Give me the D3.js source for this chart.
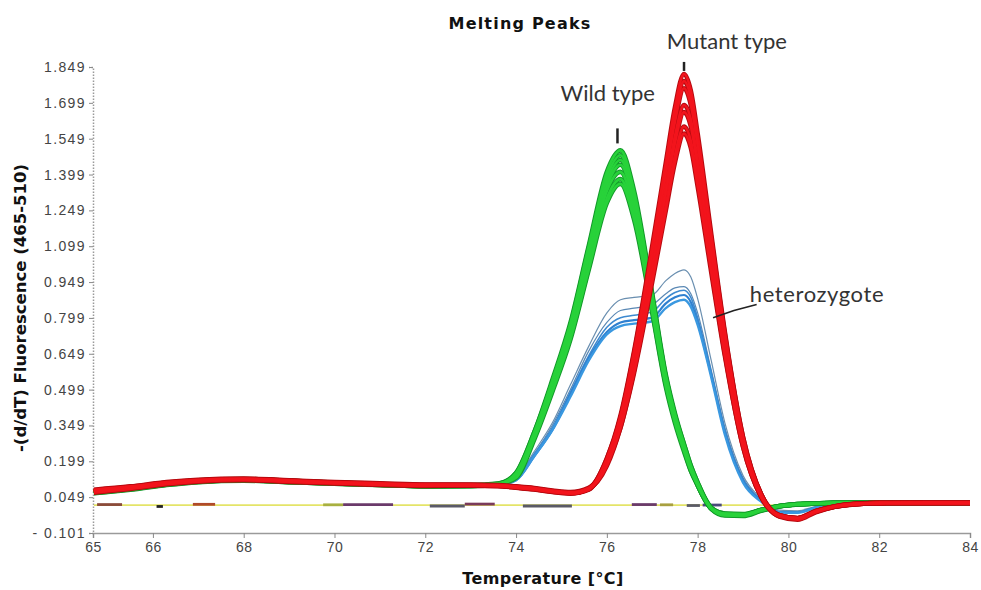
<!DOCTYPE html>
<html>
<head>
<meta charset="utf-8">
<script src="https://cdn.jsdelivr.net/npm/d3@7"></script>
<style>
  body { margin: 0; background: #fff; }
  svg { display: block; }
</style>
</head>
<body>
<div id="chart"></div>
<script>
'use strict';

// temperature grid (°C) shared by every trace
var temps = [64.7, 65.5, 66.3, 67, 68, 69, 70, 71, 72, 73, 73.6, 74, 74.4, 74.8, 75.2, 75.6,
  76, 76.3, 76.6, 77, 77.3, 77.5, 77.7, 77.85, 78, 78.3, 78.6, 79, 79.4, 79.8, 80.2, 80.6,
  81, 81.5, 82, 83, 84];

// wild type replicates
var greenCurves = [
  [0.070,0.085,0.105,0.118,0.122,0.115,0.108,0.103,0.097,0.098,0.105, 0.15,0.32,0.54,0.78,1.10,1.41,1.50,1.33,0.90,0.56,0.40,0.27,0.18,0.11, 0.000,-0.025,-0.025,-0.005,0.012,0.020,0.023,0.025,0.025,0.025,0.025,0.025],
  [0.065,0.080,0.100,0.112,0.118,0.112,0.106,0.100,0.094,0.095,0.102, 0.15,0.32,0.53,0.77,1.09,1.39,1.48,1.31,0.89,0.55,0.39,0.27,0.18,0.11, 0.005,-0.020,-0.022,-0.004,0.012,0.020,0.023,0.025,0.025,0.025,0.025,0.025],
  [0.075,0.090,0.108,0.120,0.125,0.118,0.110,0.104,0.099,0.100,0.106, 0.14,0.31,0.53,0.76,1.07,1.37,1.46,1.30,0.88,0.55,0.39,0.26,0.17,0.10, 0.000,-0.028,-0.030,-0.008,0.010,0.018,0.022,0.024,0.025,0.025,0.025,0.025],
  [0.068,0.083,0.102,0.115,0.120,0.113,0.105,0.100,0.096,0.097,0.103, 0.14,0.31,0.52,0.75,1.06,1.35,1.44,1.28,0.87,0.54,0.38,0.26,0.17,0.10, 0.003,-0.022,-0.026,-0.006,0.011,0.019,0.022,0.024,0.025,0.025,0.025,0.025],
  [0.072,0.087,0.106,0.117,0.121,0.114,0.107,0.102,0.096,0.097,0.104, 0.14,0.30,0.51,0.73,1.03,1.33,1.41,1.25,0.85,0.53,0.38,0.25,0.17,0.10, 0.002,-0.024,-0.027,-0.006,0.011,0.019,0.022,0.024,0.025,0.025,0.025,0.025],
  [0.066,0.082,0.101,0.113,0.119,0.112,0.105,0.100,0.095,0.096,0.102, 0.14,0.30,0.50,0.72,1.01,1.30,1.38,1.23,0.83,0.52,0.37,0.25,0.16,0.10, 0.004,-0.021,-0.024,-0.005,0.012,0.020,0.023,0.024,0.025,0.025,0.025,0.025],
  [0.070,0.086,0.104,0.116,0.120,0.113,0.106,0.101,0.095,0.096,0.103, 0.13,0.29,0.49,0.71,1.00,1.28,1.36,1.21,0.82,0.51,0.36,0.24,0.16,0.10, 0.003,-0.023,-0.025,-0.005,0.011,0.019,0.022,0.024,0.025,0.025,0.025,0.025]
];

// mutant type replicates
var redCurves = [
  [0.075,0.090,0.110,0.120,0.125,0.118,0.110,0.105,0.100,0.100,0.098,0.092,0.085,0.075,0.068,0.085, 0.21,0.39,0.66,1.10,1.45,1.68,1.82,1.75,1.57,1.15,0.74,0.30,0.06, -0.030,-0.042,-0.010,0.010,0.022,0.025,0.025,0.025],
  [0.070,0.086,0.106,0.117,0.122,0.115,0.108,0.103,0.098,0.098,0.096,0.090,0.082,0.072,0.065,0.082, 0.21,0.38,0.65,1.08,1.43,1.65,1.79,1.72,1.54,1.13,0.73,0.30,0.06, -0.028,-0.040,-0.012,0.008,0.020,0.024,0.025,0.025],
  [0.080,0.094,0.112,0.122,0.127,0.120,0.112,0.107,0.102,0.102,0.100,0.094,0.087,0.077,0.070,0.088, 0.20,0.38,0.64,1.06,1.40,1.62,1.76,1.69,1.52,1.11,0.72,0.29,0.06, -0.032,-0.045,-0.014,0.008,0.021,0.024,0.025,0.025],
  [0.068,0.083,0.103,0.114,0.120,0.113,0.106,0.100,0.096,0.097,0.095,0.089,0.081,0.071,0.064,0.080, 0.20,0.36,0.61,1.02,1.35,1.56,1.69,1.63,1.46,1.07,0.69,0.28,0.06, -0.026,-0.038,-0.009,0.010,0.021,0.024,0.025,0.025],
  [0.078,0.092,0.109,0.119,0.124,0.117,0.109,0.104,0.100,0.099,0.097,0.091,0.084,0.074,0.067,0.084, 0.19,0.36,0.60,1.00,1.32,1.53,1.66,1.60,1.43,1.05,0.67,0.27,0.05, -0.030,-0.041,-0.011,0.009,0.021,0.024,0.025,0.025],
  [0.072,0.088,0.107,0.118,0.123,0.116,0.108,0.103,0.099,0.099,0.097,0.090,0.083,0.073,0.066,0.083, 0.19,0.34,0.58,0.97,1.27,1.48,1.60,1.54,1.38,1.01,0.65,0.26,0.05, -0.027,-0.039,-0.010,0.009,0.020,0.024,0.025,0.025],
  [0.074,0.089,0.108,0.119,0.124,0.117,0.109,0.104,0.100,0.100,0.098,0.091,0.084,0.074,0.067,0.084, 0.18,0.34,0.57,0.95,1.25,1.45,1.57,1.51,1.35,0.99,0.64,0.26,0.05, -0.028,-0.040,-0.011,0.009,0.020,0.024,0.025,0.025]
];

// heterozygote replicates
var blueCurves = [
  [0.068,0.084,0.104,0.116,0.120,0.113,0.107,0.102,0.097,0.097,0.100, 0.13,0.24,0.36,0.52,0.68,0.82,0.875,0.885,0.895,0.955,0.985,1.000,0.970,0.88,0.62,0.36,0.14,0.045,-0.005,-0.008,0.010,0.020,0.024,0.025,0.025,0.025],
  [0.066,0.082,0.102,0.114,0.118,0.111,0.105,0.100,0.095,0.096,0.099, 0.13,0.23,0.35,0.50,0.66,0.78,0.830,0.840,0.855,0.900,0.925,0.930,0.900,0.82,0.58,0.34,0.13,0.040,-0.010,-0.012,0.008,0.020,0.024,0.025,0.025,0.025],
  [0.070,0.086,0.105,0.117,0.121,0.114,0.108,0.103,0.098,0.098,0.101, 0.13,0.23,0.34,0.49,0.64,0.76,0.800,0.810,0.825,0.880,0.905,0.915,0.885,0.80,0.57,0.33,0.12,0.035,-0.012,-0.014,0.006,0.018,0.023,0.025,0.025,0.025],
  [0.067,0.083,0.103,0.115,0.119,0.112,0.106,0.101,0.096,0.096,0.099, 0.12,0.22,0.33,0.48,0.63,0.74,0.780,0.790,0.800,0.860,0.885,0.895,0.865,0.78,0.56,0.32,0.12,0.035,-0.014,-0.015,0.005,0.018,0.023,0.025,0.025,0.025],
  [0.069,0.085,0.104,0.116,0.120,0.113,0.107,0.102,0.097,0.097,0.100, 0.12,0.22,0.33,0.47,0.62,0.73,0.765,0.775,0.785,0.840,0.865,0.875,0.845,0.77,0.55,0.31,0.11,0.030,-0.015,-0.016,0.004,0.017,0.022,0.025,0.025,0.025]
];

// no-template controls: one flat trace plus short overlapping pieces [from, to, value]
var controlLevel = 0.016;
var controlRange = [64.7, 82];
var controlPieces = [
  [64.77, 65.32, 0.018], [66.08, 66.22, 0.010], [66.88, 67.37, 0.019], [69.75, 70.19, 0.017],
  [70.19, 71.29, 0.018], [72.10, 72.87, 0.012], [72.87, 73.53, 0.020], [74.15, 75.23, 0.012],
  [76.55, 77.10, 0.018], [77.17, 77.46, 0.017], [77.76, 78.05, 0.014], [78.11, 78.53, 0.016],
  [80.6, 84, 0.024]
];
var controlColors = ['#8a4a3a', '#222222', '#b04a2a', '#a8b040', '#6a3a6a', '#5a5a68', '#7a3a5a',
  '#5a5a66', '#6a3a6a', '#a8a040', '#5a5a66', '#4a4a7a', '#463c46'];

var xTicks = [64.68, 66, 68, 70, 72, 74, 76, 78, 80, 82, 84];
var xTickLabels = ['65', '66', '68', '70', '72', '74', '76', '78', '80', '82', '84'];
var yTicks = [-0.101, 0.049, 0.199, 0.349, 0.499, 0.649, 0.799, 0.949, 1.099, 1.249, 1.399, 1.549, 1.699, 1.849];
var yTickLabels = ['- 0.101', '0.049', '0.199', '0.349', '0.499', '0.649', '0.799', '0.949',
  '1.099', '1.249', '1.399', '1.549', '1.699', '1.849'];

var chart = {};
chart.width = 981;
chart.height = 590;
chart.x = d3.scaleLinear().domain([64.68, 84]).range([93, 970]);
chart.y = d3.scaleLinear().domain([-0.101, 1.849]).range([533, 67]);

var svg = d3.select('#chart').append('svg')
  .attr('width', chart.width)
  .attr('height', chart.height)
  .style('font-family', 'DejaVu Sans, sans-serif');

svg.append('rect').attr('width', chart.width).attr('height', chart.height).attr('fill', '#fff');

// axes
var xAxisGroup = svg.append('g')
  .attr('transform', 'translate(0,' + chart.y.range()[0] + ')')
  .call(d3.axisBottom(chart.x).tickValues(xTicks)
    .tickFormat(function (d, i) { return xTickLabels[i]; })
    .tickSize(5).tickPadding(4));
xAxisGroup.select('.domain').attr('stroke', '#9a9a9a').attr('stroke-width', 1.5);
xAxisGroup.selectAll('.tick line').attr('stroke', '#8a8a8a');
xAxisGroup.selectAll('.tick text').attr('font-size', 14).attr('fill', '#444').attr('letter-spacing', 0.5);

var yAxisGroup = svg.append('g')
  .attr('transform', 'translate(' + chart.x.range()[0] + ',0)')
  .call(d3.axisLeft(chart.y).tickValues(yTicks)
    .tickFormat(function (d, i) { return yTickLabels[i]; })
    .tickSize(4).tickPadding(3));
yAxisGroup.select('.domain').attr('stroke', '#9a9a9a').attr('stroke-width', 1.5)
  .attr('stroke-dasharray', '1.5,1.5');
yAxisGroup.selectAll('.tick line').attr('stroke', '#8a8a8a');
yAxisGroup.selectAll('.tick text').attr('font-size', 14).attr('fill', '#444').attr('letter-spacing', 1.4);

// curves
var line = d3.line()
  .x(function (d, i) { return chart.x(temps[i]); })
  .y(function (d) { return chart.y(d); })
  .curve(d3.curveMonotoneX);

var plot = svg.append('g');

plot.append('path')
  .attr('d', d3.line()([[chart.x(controlRange[0]), chart.y(controlLevel)], [chart.x(controlRange[1]), chart.y(controlLevel)]]))
  .attr('stroke', '#e4e468').attr('stroke-width', 1.8).attr('fill', 'none');

plot.selectAll('.ctrl').data(controlPieces).enter().append('line')
  .attr('class', 'ctrl')
  .attr('x1', function (d) { return chart.x(d[0]); })
  .attr('x2', function (d) { return chart.x(d[1]); })
  .attr('y1', function (d) { return chart.y(d[2]); })
  .attr('y2', function (d) { return chart.y(d[2]); })
  .attr('stroke', function (d, i) { return controlColors[i]; })
  .attr('stroke-width', 2.8);

var blueColors = ['#6a8fb0', '#5a88b4', '#3e8ad0', '#2f80d0', '#3a98e0'];
var blueWidths = [1.2, 1.2, 1.6, 2.2, 2.4];
plot.selectAll('.het').data(blueCurves).enter().append('path')
  .attr('class', 'het')
  .attr('d', line)
  .attr('fill', 'none')
  .attr('stroke', function (d, i) { return blueColors[i]; })
  .attr('stroke-width', function (d, i) { return blueWidths[i]; });

// a darker outline pass then the bright pass gives the banded look of the originals
function drawBand(cls, data, edge, fill) {
  plot.selectAll('.' + cls + '-edge').data(data).enter().append('path')
    .attr('class', cls + '-edge')
    .attr('d', line)
    .attr('fill', 'none')
    .attr('stroke', edge)
    .attr('stroke-width', 4.6);
  plot.selectAll('.' + cls).data(data).enter().append('path')
    .attr('class', cls)
    .attr('d', line)
    .attr('fill', 'none')
    .attr('stroke', fill)
    .attr('stroke-width', 2.6);
}
drawBand('wild', greenCurves, '#139a2a', '#28d23a');
drawBand('mut', redCurves, '#b80a10', '#f2141c');

// annotations
var wildPeak = [76.3, d3.max(greenCurves, function (c) { return d3.max(c); })];
var mutPeak = [77.7, d3.max(redCurves, function (c) { return d3.max(c); })];

svg.append('line')
  .attr('x1', chart.x(wildPeak[0]) - 3).attr('x2', chart.x(wildPeak[0]) - 3)
  .attr('y1', chart.y(wildPeak[1]) - 7).attr('y2', chart.y(wildPeak[1]) - 22)
  .attr('stroke', '#222').attr('stroke-width', 2.5);
svg.append('line')
  .attr('x1', chart.x(mutPeak[0])).attr('x2', chart.x(mutPeak[0]))
  .attr('y1', chart.y(mutPeak[1]) - 3).attr('y2', chart.y(mutPeak[1]) - 12)
  .attr('stroke', '#222').attr('stroke-width', 2.5);

svg.append('path')
  .attr('d', d3.line()([[chart.x(78.34), chart.y(0.80)], [chart.x(78.8), chart.y(0.83)], [chart.x(79.3), chart.y(0.855)]]))
  .attr('fill', 'none').attr('stroke', '#222').attr('stroke-width', 1.6);

var labelFont = 'Lato, Carlito, sans-serif';
svg.append('text').attr('x', chart.x(78.645)).attr('y', chart.y(1.924))
  .attr('text-anchor', 'middle').attr('font-family', labelFont).attr('font-size', 22)
  .attr('fill', '#333').text('Mutant type');
svg.append('text').attr('x', chart.x(76.02)).attr('y', chart.y(1.707))
  .attr('text-anchor', 'middle').attr('font-family', labelFont).attr('font-size', 22)
  .attr('fill', '#333').text('Wild type');
svg.append('text').attr('x', chart.x(79.15)).attr('y', chart.y(0.866))
  .attr('font-family', labelFont).attr('font-size', 22).attr('letter-spacing', 0.6)
  .attr('fill', '#333').text('heterozygote');

// titles
svg.append('text').attr('x', 520).attr('y', 29).attr('text-anchor', 'middle')
  .attr('font-size', 16).attr('font-weight', 'bold').attr('letter-spacing', 1.2)
  .attr('fill', '#111').text('Melting Peaks');
svg.append('text').attr('x', 543).attr('y', 584).attr('text-anchor', 'middle')
  .attr('font-size', 16).attr('font-weight', 'bold').attr('letter-spacing', 0.4)
  .attr('fill', '#111').text('Temperature [°C]');
svg.append('text').attr('transform', 'translate(26,308) rotate(-90)').attr('text-anchor', 'middle')
  .attr('font-size', 16.5).attr('font-weight', 'bold').attr('fill', '#111')
  .text('-(d/dT) Fluorescence (465-510)');
</script>
</body>
</html>
